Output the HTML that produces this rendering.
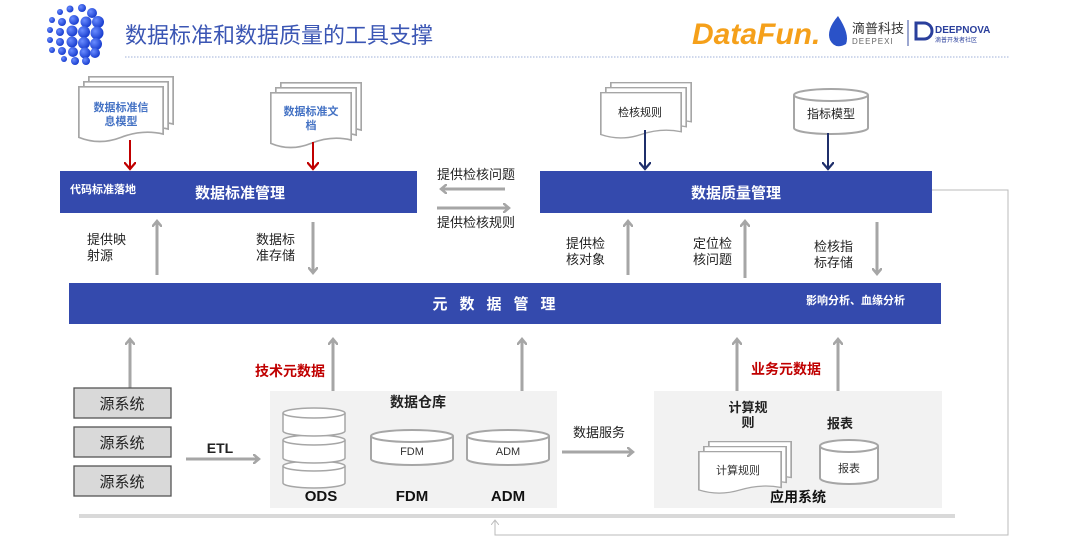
<!DOCTYPE html>
<html><head><meta charset="utf-8"><style>
html,body{margin:0;padding:0;background:#fff;}
svg{display:block;font-family:"Liberation Sans","Noto Sans CJK SC",sans-serif;}
</style></head><body>
<svg width="1080" height="554" viewBox="0 0 1080 554" xmlns="http://www.w3.org/2000/svg">
<defs>
<marker id="ag" markerWidth="10" markerHeight="10" refX="5" refY="5" orient="auto" markerUnits="userSpaceOnUse"><path d="M0,0 L6,5 L0,10" fill="none" stroke="#a6a6a6" stroke-width="2.5"/></marker>
<marker id="ar" markerWidth="12" markerHeight="12" refX="6" refY="6" orient="auto" markerUnits="userSpaceOnUse"><path d="M0,0 L7,6 L0,12" fill="none" stroke="#c00000" stroke-width="2.2"/></marker>
<marker id="an" markerWidth="12" markerHeight="12" refX="6" refY="6" orient="auto" markerUnits="userSpaceOnUse"><path d="M0,0 L7,6 L0,12" fill="none" stroke="#1f2f6b" stroke-width="2.2"/></marker>
<marker id="at" markerWidth="8" markerHeight="8" refX="4" refY="4" orient="auto" markerUnits="userSpaceOnUse"><path d="M0,0 L5,4 L0,8" fill="none" stroke="#bbb" stroke-width="1"/></marker>
<radialGradient id="ball" cx="35%" cy="35%" r="65%"><stop offset="0" stop-color="#6a8cff"/><stop offset="1" stop-color="#1a3fd0"/></radialGradient>
<symbol id="doc" viewBox="0 0 100 70" preserveAspectRatio="none"><path d="M1,1 H99 V58 Q75,52 50,62 Q25,72 1,62 Z" fill="#fff" stroke="#a6a6a6" stroke-width="2"/></symbol>
</defs>

<!-- logo balls -->
<g fill="url(#ball)">
<circle cx="60" cy="12" r="3"/><circle cx="70" cy="9" r="3.5"/><circle cx="82" cy="8" r="4"/><circle cx="92" cy="13" r="5"/>
<circle cx="52" cy="20" r="3"/><circle cx="62" cy="22" r="4"/><circle cx="74" cy="20" r="5"/><circle cx="86" cy="22" r="5.5"/><circle cx="98" cy="22" r="6"/>
<circle cx="50" cy="30" r="3"/><circle cx="60" cy="32" r="4"/><circle cx="72" cy="31" r="5.5"/><circle cx="84" cy="32" r="6"/><circle cx="97" cy="33" r="6.5"/>
<circle cx="50" cy="40" r="3"/><circle cx="60" cy="42" r="4"/><circle cx="72" cy="42" r="5.5"/><circle cx="84" cy="43" r="6"/><circle cx="96" cy="44" r="6"/>
<circle cx="52" cy="50" r="3"/><circle cx="62" cy="51" r="4"/><circle cx="73" cy="52" r="5"/><circle cx="85" cy="53" r="5.5"/><circle cx="95" cy="53" r="5"/>
<circle cx="64" cy="59" r="3"/><circle cx="75" cy="61" r="4"/><circle cx="86" cy="61" r="4"/>
</g>
<text x="125" y="43" font-size="22" fill="#3b56b4">数据标准和数据质量的工具支撑</text>
<line x1="125" y1="57" x2="1010" y2="57" stroke="#9fb0d8" stroke-width="1" stroke-dasharray="1.5,1.5"/>
<!-- right logos -->
<text x="692" y="44" font-size="30" font-weight="bold" font-style="italic" fill="#f5a01a" font-family="Liberation Sans,sans-serif">DataFun.</text>
<path d="M838,16 Q826,30 830,40 Q835,50 846,44 Q850,34 838,16Z" fill="#2a52c8"/>
<text x="852" y="33" font-size="13" fill="#333">滴普科技</text>
<text x="852" y="44" font-size="8" fill="#666" letter-spacing="1">DEEPEXI</text>
<line x1="908" y1="20" x2="908" y2="46" stroke="#3a4fa0" stroke-width="1"/>
<path d="M916,23 h8 a8,8 0 0 1 0,16 h-8z" fill="none" stroke="#2a3f9c" stroke-width="3"/>
<text x="935" y="33" font-size="10" font-weight="bold" fill="#2a3f9c">DEEPNOVA</text>
<text x="935" y="42" font-size="6" fill="#2a3f9c">滴普开发者社区</text>

<!-- top docs -->
<use href="#doc" x="88" y="76" width="86" height="58"/>
<use href="#doc" x="83" y="81" width="86" height="58"/>
<use href="#doc" x="78" y="86" width="86" height="58"/>
<text x="121" y="111" font-size="11" font-weight="bold" fill="#4472c4" text-anchor="middle">数据标准信</text>
<text x="121" y="125" font-size="11" font-weight="bold" fill="#4472c4" text-anchor="middle">息模型</text>
<use href="#doc" x="280" y="82" width="82" height="58"/>
<use href="#doc" x="275" y="87" width="82" height="58"/>
<use href="#doc" x="270" y="92" width="82" height="58"/>
<text x="311" y="115" font-size="11" font-weight="bold" fill="#4472c4" text-anchor="middle">数据标准文</text>
<text x="311" y="129" font-size="11" font-weight="bold" fill="#4472c4" text-anchor="middle">档</text>
<use href="#doc" x="610" y="82" width="82" height="48"/>
<use href="#doc" x="605" y="87" width="82" height="48"/>
<use href="#doc" x="600" y="92" width="82" height="48"/>
<text x="640" y="116" font-size="11" fill="#222" text-anchor="middle">检核规则</text>
<!-- cylinder 指标模型 -->
<path d="M794,95 V128 A37,6 0 0 0 868,128 V95" fill="#fff" stroke="#a6a6a6" stroke-width="2"/>
<ellipse cx="831" cy="95" rx="37" ry="6" fill="#fff" stroke="#a6a6a6" stroke-width="2"/>
<text x="831" y="118" font-size="12" fill="#222" text-anchor="middle">指标模型</text>

<line x1="130" y1="140" x2="130" y2="168" stroke="#c00000" stroke-width="2" marker-end="url(#ar)"/>
<line x1="313" y1="142" x2="313" y2="168" stroke="#c00000" stroke-width="2" marker-end="url(#ar)"/>
<line x1="645" y1="130" x2="645" y2="168" stroke="#1f2f6b" stroke-width="2" marker-end="url(#an)"/>
<line x1="828" y1="133" x2="828" y2="168" stroke="#1f2f6b" stroke-width="2" marker-end="url(#an)"/>

<!-- bars -->
<rect x="60" y="171" width="357" height="42" fill="#344aad"/>
<text x="70" y="193" font-size="11" font-weight="bold" fill="#fff">代码标准落地</text>
<text x="240" y="198" font-size="15" font-weight="bold" fill="#fff" text-anchor="middle">数据标准管理</text>
<rect x="540" y="171" width="392" height="42" fill="#344aad"/>
<text x="736" y="198" font-size="15" font-weight="bold" fill="#fff" text-anchor="middle">数据质量管理</text>

<text x="476" y="179" font-size="13" fill="#222" text-anchor="middle">提供检核问题</text>
<line x1="505" y1="189" x2="442" y2="189" stroke="#a6a6a6" stroke-width="3" marker-end="url(#ag)"/>
<line x1="437" y1="208" x2="508" y2="208" stroke="#a6a6a6" stroke-width="3" marker-end="url(#ag)"/>
<text x="476" y="227" font-size="13" fill="#222" text-anchor="middle">提供检核规则</text>

<line x1="157" y1="275" x2="157" y2="222" stroke="#a6a6a6" stroke-width="3" marker-end="url(#ag)"/>
<line x1="313" y1="222" x2="313" y2="272" stroke="#a6a6a6" stroke-width="3" marker-end="url(#ag)"/>
<line x1="628" y1="275" x2="628" y2="222" stroke="#a6a6a6" stroke-width="3" marker-end="url(#ag)"/>
<line x1="745" y1="278" x2="745" y2="222" stroke="#a6a6a6" stroke-width="3" marker-end="url(#ag)"/>
<line x1="877" y1="222" x2="877" y2="273" stroke="#a6a6a6" stroke-width="3" marker-end="url(#ag)"/>
<g font-size="13" fill="#222">
<text x="87" y="244">提供映</text><text x="87" y="260">射源</text>
<text x="256" y="244">数据标</text><text x="256" y="260">准存储</text>
<text x="566" y="248">提供检</text><text x="566" y="264">核对象</text>
<text x="693" y="248">定位检</text><text x="693" y="264">核问题</text>
<text x="814" y="251">检核指</text><text x="814" y="267">标存储</text>
</g>

<rect x="69" y="283" width="872" height="41" fill="#344aad"/>
<text x="500" y="309" font-size="15" font-weight="bold" fill="#fff" text-anchor="middle" letter-spacing="12">元数据管理</text>
<text x="806" y="304" font-size="11" font-weight="bold" fill="#fff">影响分析、血缘分析</text>

<!-- lower arrows -->
<line x1="130" y1="388" x2="130" y2="340" stroke="#a6a6a6" stroke-width="3" marker-end="url(#ag)"/>
<line x1="333" y1="392" x2="333" y2="340" stroke="#a6a6a6" stroke-width="3" marker-end="url(#ag)"/>
<line x1="522" y1="392" x2="522" y2="340" stroke="#a6a6a6" stroke-width="3" marker-end="url(#ag)"/>
<line x1="737" y1="392" x2="737" y2="340" stroke="#a6a6a6" stroke-width="3" marker-end="url(#ag)"/>
<line x1="838" y1="392" x2="838" y2="340" stroke="#a6a6a6" stroke-width="3" marker-end="url(#ag)"/>
<text x="255" y="376" font-size="14" font-weight="bold" fill="#c00000">技术元数据</text>
<text x="751" y="374" font-size="14" font-weight="bold" fill="#c00000">业务元数据</text>

<!-- sources -->
<g font-size="15" fill="#222" text-anchor="middle">
<rect x="74" y="388" width="97" height="30" fill="#d9d9d9" stroke="#555" stroke-width="1.3"/><text x="122" y="409">源系统</text>
<rect x="74" y="427" width="97" height="30" fill="#d9d9d9" stroke="#555" stroke-width="1.3"/><text x="122" y="448">源系统</text>
<rect x="74" y="466" width="97" height="30" fill="#d9d9d9" stroke="#555" stroke-width="1.3"/><text x="122" y="487">源系统</text>
</g>
<text x="220" y="453" font-size="14" font-weight="bold" fill="#222" text-anchor="middle">ETL</text>
<line x1="186" y1="459" x2="258" y2="459" stroke="#a6a6a6" stroke-width="3" marker-end="url(#ag)"/>

<!-- warehouse -->
<rect x="270" y="391" width="287" height="117" fill="#f2f2f2"/>
<text x="418" y="407" font-size="14" font-weight="bold" fill="#222" text-anchor="middle">数据仓库</text>
<g fill="#fff" stroke="#a6a6a6" stroke-width="1.5">
<path d="M283,466 V483 A31,5 0 0 0 345,483 V466"/><ellipse cx="314" cy="466" rx="31" ry="5"/>
<path d="M283,440 V458 A31,5 0 0 0 345,458 V440"/><ellipse cx="314" cy="440" rx="31" ry="5"/>
<path d="M283,413 V431 A31,5 0 0 0 345,431 V413"/><ellipse cx="314" cy="413" rx="31" ry="5"/>
</g>
<g fill="#fff" stroke="#a6a6a6" stroke-width="2">
<path d="M371,436 V459 A41,6 0 0 0 453,459 V436"/><ellipse cx="412" cy="436" rx="41" ry="6"/>
<path d="M467,436 V459 A41,6 0 0 0 549,459 V436"/><ellipse cx="508" cy="436" rx="41" ry="6"/>
</g>
<text x="412" y="455" font-size="11" fill="#333" text-anchor="middle">FDM</text>
<text x="508" y="455" font-size="11" fill="#333" text-anchor="middle">ADM</text>
<g font-size="15" font-weight="bold" fill="#111" text-anchor="middle">
<text x="321" y="501">ODS</text><text x="412" y="501">FDM</text><text x="508" y="501">ADM</text>
</g>
<text x="599" y="437" font-size="13" fill="#222" text-anchor="middle">数据服务</text>
<line x1="562" y1="452" x2="632" y2="452" stroke="#a6a6a6" stroke-width="3" marker-end="url(#ag)"/>

<!-- app system -->
<rect x="654" y="391" width="288" height="117" fill="#f2f2f2"/>
<text x="748" y="412" font-size="13" font-weight="bold" fill="#222" text-anchor="middle">计算规</text>
<text x="748" y="427" font-size="13" font-weight="bold" fill="#222" text-anchor="middle">则</text>
<text x="840" y="428" font-size="13" font-weight="bold" fill="#222" text-anchor="middle">报表</text>
<use href="#doc" x="708" y="441" width="84" height="44"/>
<use href="#doc" x="703" y="446" width="84" height="44"/>
<use href="#doc" x="698" y="451" width="84" height="44"/>
<text x="738" y="474" font-size="11" fill="#333" text-anchor="middle">计算规则</text>
<path d="M820,446 V478 A29,6 0 0 0 878,478 V446" fill="#fff" stroke="#a6a6a6" stroke-width="2"/>
<ellipse cx="849" cy="446" rx="29" ry="6" fill="#fff" stroke="#a6a6a6" stroke-width="2"/>
<text x="849" y="472" font-size="11" fill="#333" text-anchor="middle">报表</text>
<text x="798" y="502" font-size="14" font-weight="bold" fill="#111" text-anchor="middle">应用系统</text>

<!-- bottom bar & feedback -->
<rect x="79" y="514" width="876" height="4" fill="#d9d9d9"/>
<polyline points="932,190 1008,190 1008,535 495,535 495,521" fill="none" stroke="#bbb" stroke-width="1" marker-end="url(#at)"/>
</svg>
</body></html>
